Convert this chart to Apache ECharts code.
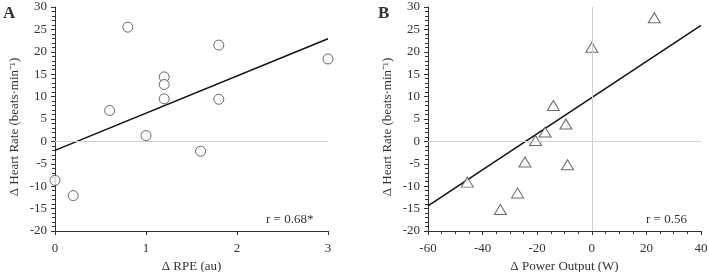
<!DOCTYPE html>
<html lang="en">
<head>
    <meta charset="UTF-8">
    <title>Heart rate vs RPE / power output</title>
    <script src="https://cdn.jsdelivr.net/npm/echarts@6/dist/echarts.min.js" type="text/javascript"></script>
</head>
<body style="margin:0;">
<div id="chart" style="width:709px;height:272px;"></div>

<script>
    // panel A: change in RPE vs change in heart rate
    var rpeX = [0, 0.2, 0.6, 0.8, 1.0, 1.2, 1.2, 1.2, 1.6, 1.8, 1.8, 3.0];
    var rpeHR = [-8.7, -12.1, 6.9, 25.5, 1.3, 14.4, 12.7, 9.5, -2.2, 21.5, 9.4, 18.4];
    // fitted line (x, y at the ends)
    var fitA = [[0, -2.0], [3, 22.9]];

    // panel B: change in power output vs change in heart rate
    var powX = [-45.6, -33.5, -27.2, -24.5, -20.6, -17.1, -14.1, -9.5, -8.9, 0, 22.9];
    var powHR = [-9.1, -15.2, -11.5, -4.6, 0.2, 2.1, 8.0, 3.9, -5.2, 21.0, 27.6];
    var fitB = [[-60, -14.4], [40, 25.9]];

    var yTicks = {min: -20, max: 30, interval: 5};
    var yName = 'Δ Heart Rate (beats·min⁻¹)';

    var font = 'Liberation Serif, Times New Roman, serif';
    var ink = '#333';

    function pairs(xs, ys) {
        var out = [];
        for (var i = 0; i < xs.length; i++) out.push([xs[i], ys[i]]);
        return out;
    }

    function yAxisFor(idx) {
        return {
            gridIndex: idx, type: 'value',
            min: yTicks.min, max: yTicks.max, interval: yTicks.interval,
            name: yName, nameLocation: 'middle', nameRotate: 90, nameGap: 34,
            nameTextStyle: {fontFamily: font, fontSize: 13, color: ink, padding: [0, 16, 0, 0]},
            axisLine: {show: true, onZero: false, lineStyle: {color: ink, width: 1}},
            axisTick: {show: true, length: 4, lineStyle: {color: ink}},
            minorTick: {show: true, splitNumber: 5, length: 3, lineStyle: {color: ink}},
            axisLabel: {fontFamily: font, fontSize: 13, color: ink, margin: 8},
            splitLine: {show: false}
        };
    }

    function xAxisFor(idx, min, max, step, name, minor) {
        return {
            gridIndex: idx, type: 'value', min: min, max: max, interval: step,
            name: name, nameLocation: 'middle', nameGap: 28,
            nameTextStyle: {fontFamily: font, fontSize: 13, color: ink},
            axisLine: {onZero: false, lineStyle: {color: ink}},
            axisTick: {show: true, length: 4, lineStyle: {color: ink}},
            minorTick: {show: minor > 0, splitNumber: minor || 5, length: 3, lineStyle: {color: ink}},
            axisLabel: {fontFamily: font, fontSize: 13, color: ink, margin: 11},
            splitLine: {show: false}
        };
    }

    var chart = echarts.init(document.getElementById('chart'));
    chart.setOption({
        animation: false,
        textStyle: {fontFamily: font},
        title: [
            {text: 'A', left: 3, top: 5, padding: 0, textStyle: {fontFamily: font, fontSize: 17, fontWeight: 'bold', color: ink}},
            {text: 'B', left: 378, top: 5, padding: 0, textStyle: {fontFamily: font, fontSize: 17, fontWeight: 'bold', color: ink}},
            {text: 'r = 0.68*', left: 266, top: 213, padding: 0, textStyle: {fontFamily: font, fontSize: 13, fontWeight: 'normal', color: ink}},
            {text: 'r = 0.56', left: 646, top: 213, padding: 0, textStyle: {fontFamily: font, fontSize: 13, fontWeight: 'normal', color: ink}}
        ],
        grid: [
            {left: 55, top: 7, width: 273, height: 224, outerBoundsMode: 'none'},
            {left: 428, top: 7, width: 273, height: 224, outerBoundsMode: 'none'}
        ],
        xAxis: [
            xAxisFor(0, 0, 3, 1, 'Δ RPE (au)', 0),
            xAxisFor(1, -60, 40, 20, 'Δ Power Output (W)', 4)
        ],
        yAxis: [yAxisFor(0), yAxisFor(1)],
        series: [
            {
                type: 'scatter', xAxisIndex: 0, yAxisIndex: 0,
                symbol: 'circle', symbolSize: 10,
                itemStyle: {color: '#fff', borderColor: '#444', borderWidth: 1},
                data: pairs(rpeX, rpeHR),
                markLine: {
                    silent: true, symbol: 'none', label: {show: false},
                    lineStyle: {color: '#d0d0d0', width: 1, type: 'solid'},
                    data: [{yAxis: 0}]
                },
                z: 3
            },
            {
                type: 'line', xAxisIndex: 0, yAxisIndex: 0,
                data: fitA, showSymbol: false,
                lineStyle: {color: '#111', width: 1.5}
            },
            {
                type: 'scatter', xAxisIndex: 1, yAxisIndex: 1,
                symbol: 'triangle', symbolSize: [12, 10],
                itemStyle: {color: '#fff', borderColor: '#444', borderWidth: 1},
                data: pairs(powX, powHR),
                markLine: {
                    silent: true, symbol: 'none', label: {show: false},
                    lineStyle: {color: '#d0d0d0', width: 1, type: 'solid'},
                    data: [{yAxis: 0}, {xAxis: 0}]
                },
                z: 3
            },
            {
                type: 'line', xAxisIndex: 1, yAxisIndex: 1,
                data: fitB, showSymbol: false,
                lineStyle: {color: '#111', width: 1.5}
            }
        ]
    });
</script>
</body>
</html>
